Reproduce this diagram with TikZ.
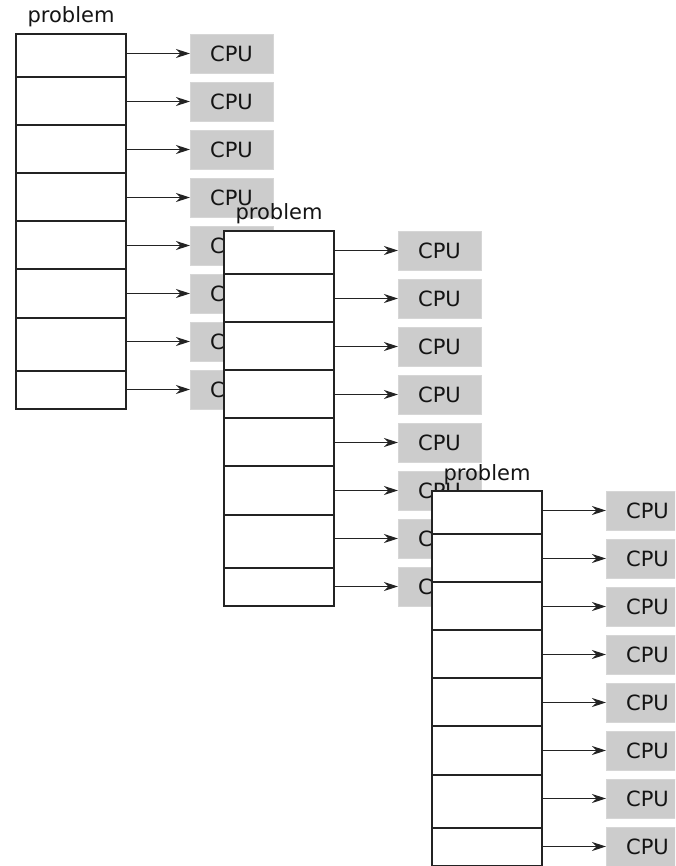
\documentclass[tikz,border=0pt]{standalone}
\usepackage{fontspec}
\setmainfont{DejaVu Sans}
\usetikzlibrary{arrows.meta}
\definecolor{cpufill}{RGB}{204,204,204}
\definecolor{cpuedge}{RGB}{214,214,214}
\definecolor{linecol}{RGB}{35,35,35}
\definecolor{textcol}{RGB}{20,20,20}
\begin{document}
\begin{tikzpicture}[x=1pt,y=-1pt,
  cell/.style={draw=linecol, line width=1.5pt, fill=white, minimum width=110pt,
    inner sep=0pt, outer sep=0pt, anchor=north west},
  cpubox/.style={fill=cpufill, draw=cpuedge, line width=0.8pt, minimum width=83pt,
    minimum height=39pt, inner sep=0pt, outer sep=0pt, anchor=north west,
    font=\fontsize{21}{25}\selectfont, text=textcol},
  link/.style={draw=linecol, line width=1.5pt, -{Stealth[length=14pt,width=9pt,inset=4.5pt]}},
  plabel/.style={anchor=base, inner sep=0pt, font=\fontsize{21}{25}\selectfont, text=textcol}
]
\useasboundingbox (0,0) rectangle (675,866);
\clip (0,0) rectangle (675,866);
\foreach \g/\X/\Y in {a/16/34, b/224/231, c/432/491}{
  \foreach \k/\o/\h in {0/0/43, 1/43/48, 2/91/48, 3/139/48, 4/187/48, 5/235/49, 6/284/53, 7/337/38}{
    \node[cell, minimum height=\h pt] (\g-c\k) at (\X, \Y+\o) {};
  }
  \foreach \k in {0,...,7}{
    \node[cpubox] (\g-p\k) at (\X+174, \Y+48*\k) {CPU};
    \draw[link] (\g-c\k.east |- \g-p\k.west) -- (\g-p\k.west);
  }
  \node[plabel] (\g-lab) at (\X+55, \Y-11) {problem};
}
\end{tikzpicture}
\end{document}
